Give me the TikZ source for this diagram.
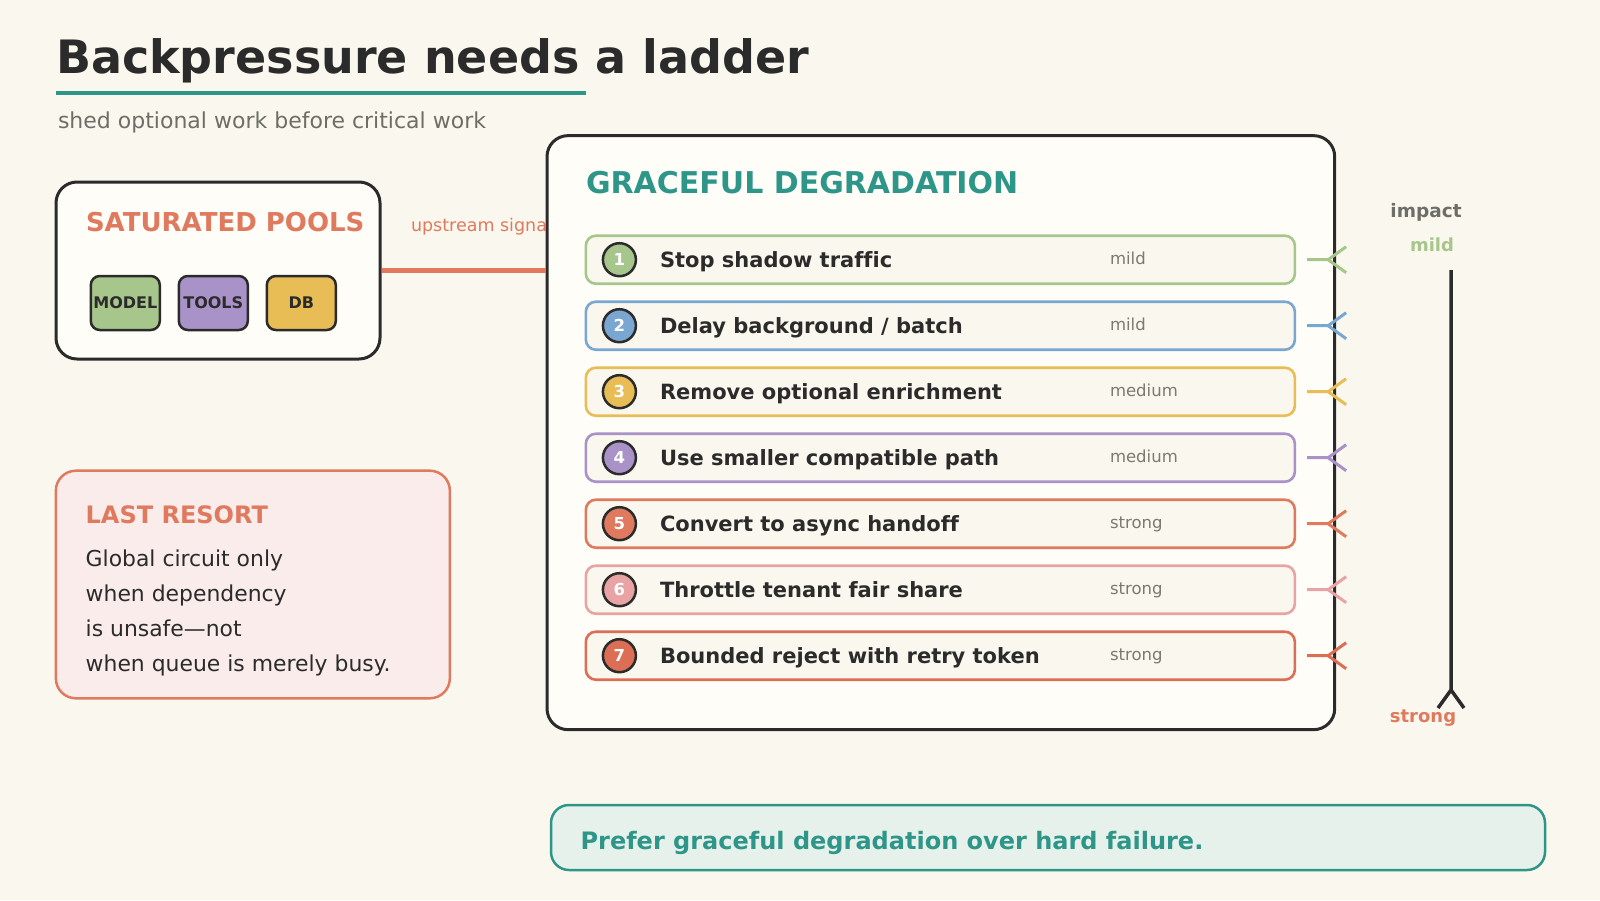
\documentclass[tikz,border=0pt]{standalone}
\usepackage{fontspec}
\setmainfont{DejaVu Sans}[Ligatures=NoCommon]
\usetikzlibrary{calc}
\definecolor{bg}{HTML}{FAF8EE}
\definecolor{panel}{HTML}{FEFDF8}
\definecolor{dark}{HTML}{2B2B2B}
\definecolor{teal}{HTML}{2E9688}
\definecolor{coral}{HTML}{DF7A5E}
\definecolor{cgreen}{HTML}{A7C68C}
\definecolor{cblue}{HTML}{7AA6D2}
\definecolor{cyellow}{HTML}{E8BD55}
\definecolor{cpurple}{HTML}{A892C8}
\definecolor{cpink}{HTML}{E8A4A4}
\definecolor{cred}{HTML}{DC6E55}
\definecolor{graytxt}{HTML}{7A7A70}
\definecolor{subgray}{HTML}{6E6E66}
\definecolor{rowfill}{HTML}{FAF8EE}
\definecolor{lrfill}{HTML}{F9ECEA}
\definecolor{tealfill}{HTML}{E7F1EC}
\newcommand\fs[1]{\fontsize{#1}{#1}\selectfont}
\tikzset{
  txt/.style={anchor=base west, inner sep=0pt, outer sep=0pt},
  ctxt/.style={anchor=base, inner sep=0pt, outer sep=0pt},
  panelbox/.style={draw=dark, line width=3pt, fill=panel, rounded corners=21pt, inner sep=0pt},
  poolbox/.style={draw=dark, line width=2.5pt, rounded corners=9pt, minimum width=69pt, minimum height=54pt, inner sep=0pt, font=\bfseries\fs{16}, text=dark},
  rowbox/.style={line width=2.6pt, fill=rowfill, rounded corners=10pt, minimum width=709pt, minimum height=48pt, inner sep=0pt},
  numdot/.style={circle, draw=dark, line width=2.5pt, minimum size=33pt, inner sep=0pt, font=\bfseries\fs{16.5}, text=white},
  rowtxt/.style={txt, font=\bfseries\fs{21}, text=dark},
  imptxt/.style={txt, font=\fs{16.5}, text=graytxt},
  rowmark/.style={line width=3pt}
}
\newcommand\ladderrow[5]{%
  \node[rowbox, draw=#3] (r#1) at (940.35,#2) {};
  \node[numdot, fill=#3] (c#1) at (619.4,#2) {#1};
  \node[rowtxt] (t#1) at (660,#2+7.4) {#4};
  \node[imptxt] (i#1) at (1110,#2+5) {#5};
  \draw[rowmark, #3] (r#1.east) ++(11,0) -- ++(21,0) -- ++(18,-13) ++(-18,13) -- ++(18,13);
}
\begin{document}
\begin{tikzpicture}[x=1pt,y=-1pt]
\fill[bg] (0,0) rectangle (1600,900);
\useasboundingbox (0,0) rectangle (1600,900);

% title
\node[txt, font=\bfseries\fs{46}, text=dark] (title) at (56,73.5) {Backpressure needs a ladder};
\draw[teal, line width=4pt] (56,93) -- (586,93);
\node[txt, font=\fs{22}, text=subgray] (subtitle) at (58,128.5) {shed optional work before critical work};

% saturated pools
\node[panelbox, minimum width=324pt, minimum height=177pt] (pools) at (218,270.5) {};
\node[txt, font=\bfseries\fs{26}, text=coral] (poolstitle) at (86,231.5) {SATURATED POOLS};
\node[poolbox, fill=cgreen] (model) at (125.3,303) {MODEL};
\node[poolbox, fill=cpurple] (tools) at (213.3,303) {TOOLS};
\node[poolbox, fill=cyellow] (db) at (301.3,303) {DB};

% upstream signal label (partly hidden by the big panel)
\node[txt, font=\fs{17.5}, text=coral] (sig) at (411,231.5) {upstream signal};

% big panel
\node[panelbox, minimum width=787.7pt, minimum height=594pt] (big) at (940.85,432.65) {};
\draw[coral, line width=5pt] (pools.east) -- (pools.east -| big.west);
\node[txt, font=\bfseries\fs{30}, text=teal] (gtitle) at (586,193) {GRACEFUL DEGRADATION};

\ladderrow{1}{259.7}{cgreen}{Stop shadow traffic}{mild}
\ladderrow{2}{325.7}{cblue}{Delay background / batch}{mild}
\ladderrow{3}{391.7}{cyellow}{Remove optional enrichment}{medium}
\ladderrow{4}{457.7}{cpurple}{Use smaller compatible path}{medium}
\ladderrow{5}{523.7}{coral}{Convert to async handoff}{strong}
\ladderrow{6}{589.7}{cpink}{Throttle tenant fair share}{strong}
\ladderrow{7}{655.7}{cred}{Bounded reject with retry token}{strong}

% impact axis
\node[ctxt, font=\bfseries\fs{18.5}, text=subgray] (impact) at (1426,217.5) {impact};
\node[ctxt, font=\bfseries\fs{18}, text=cgreen] (mildlbl) at (1432,251.5) {mild};
\coordinate (axtop) at (1451,270);
\coordinate (axv) at (1451,690);
\draw[dark, line width=3.5pt] (axtop) -- (axv) -- ++(-13,18) (axv) -- ++(13,18);
\node[ctxt, font=\bfseries\fs{18}, text=coral] (stronglbl) at (1423,722) {strong};

% last resort
\node[draw=coral, line width=2.5pt, fill=lrfill, rounded corners=20pt, minimum width=394pt, minimum height=227.6pt, inner sep=0pt] (last) at (252.85,584.5) {};
\node[txt, font=\bfseries\fs{24}, text=coral] (lasttitle) at (85.7,523) {LAST RESORT};
\node[txt, font=\fs{21.9}, text=dark] (l1) at (85.7,566) {Global circuit only};
\node[txt, font=\fs{21.9}, text=dark] (l2) at (85.7,601) {when dependency};
\node[txt, font=\fs{21.9}, text=dark] (l3) at (85.7,636) {is unsafe—not};
\node[txt, font=\fs{21.9}, text=dark] (l4) at (85.7,671.5) {when queue is merely busy.};

% bottom note
\node[draw=teal, line width=2.5pt, fill=tealfill, rounded corners=18pt, minimum width=994pt, minimum height=65pt, inner sep=0pt] (note) at (1048,837.5) {};
\node[txt, font=\bfseries\fs{24}, text=teal] (notetxt) at (580.6,849) {Prefer graceful degradation over hard failure.};
\end{tikzpicture}
\end{document}
